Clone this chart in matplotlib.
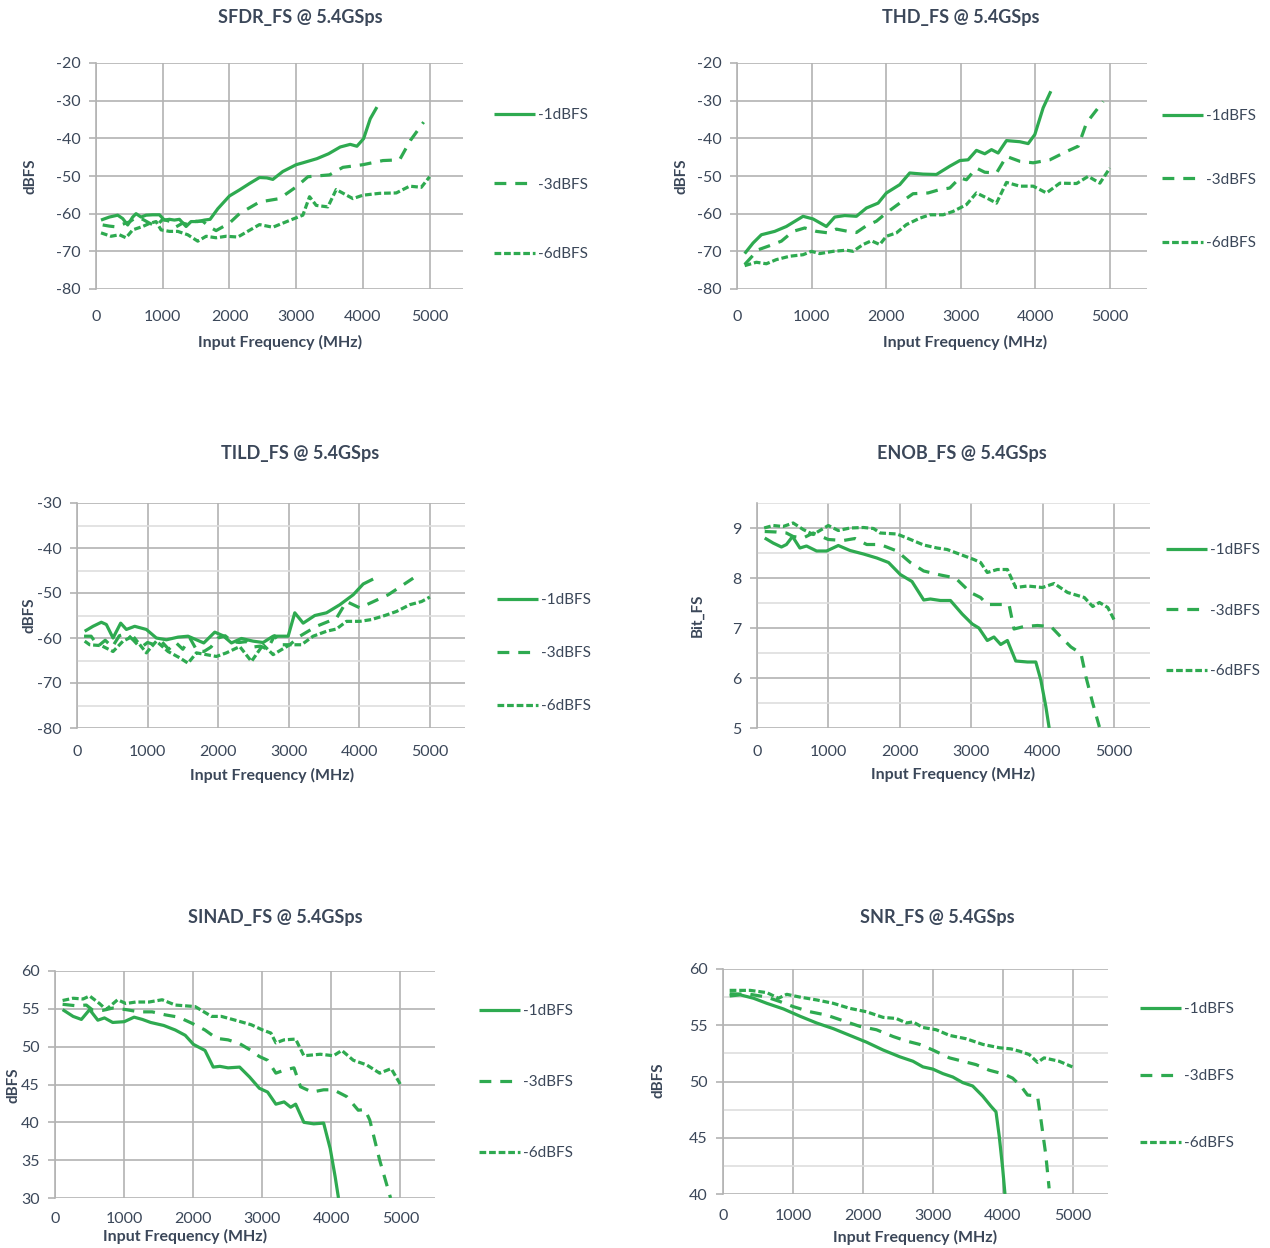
import matplotlib
matplotlib.use("Agg")
import matplotlib.pyplot as plt
from matplotlib.ticker import MultipleLocator

plt.rcParams['font.family'] = ['Lato', 'DejaVu Sans']
plt.rcParams['axes.unicode_minus'] = False

GREEN = '#2eaa50'
TXT = '#3b4759'
GRID = '#b3b3b3'
MINOR = '#dedede'

series_labels = ['-1dBFS', '-3dBFS', '-6dBFS']

# ---------------- SFDR ----------------
sfdr_x1 = [75, 200, 325, 400, 475, 550, 600, 675, 750, 850, 950, 1025, 1100, 1175, 1250, 1350, 1425,
           1525, 1625, 1710, 1825, 2000, 2150, 2300, 2450, 2560, 2650, 2800, 3000, 3100, 3310, 3485,
           3660, 3810, 3910, 4010, 4110, 4210]
sfdr_y1 = [-61.7, -60.9, -60.4, -61.3, -63.0, -60.9, -60.0, -60.9, -60.4, -60.3, -60.3, -61.7, -61.5,
           -61.7, -61.5, -63.4, -62.1, -62.1, -61.7, -61.5, -58.7, -55.3, -53.7, -52.0, -50.4, -50.5,
           -50.9, -48.8, -47.0, -46.5, -45.4, -44.1, -42.3, -41.6, -42.1, -40.1, -34.8, -31.7]
sfdr_x3 = [100, 200, 300, 400, 500, 600, 700, 800, 900, 1000, 1100, 1200, 1300, 1400, 1500, 1600, 1700,
           1800, 1900, 2000, 2150, 2450, 2750, 3000, 3175, 3300, 3500, 3700, 4000, 4300, 4550, 4710, 4910]
sfdr_y3 = [-63.0, -63.3, -63.5, -62.8, -62.2, -61.0, -61.5, -62.5, -63.3, -61.5, -62.0, -63.5, -62.5,
           -63.0, -62.0, -62.0, -63.5, -64.5, -63.5, -62.5, -60.0, -56.9, -56.0, -52.9, -50.2, -50.0,
           -49.7, -47.7, -47.0, -45.9, -45.7, -40.6, -35.7]
sfdr_x6 = [75, 225, 350, 450, 550, 700, 800, 900, 975, 1100, 1225, 1375, 1525, 1650, 1800, 1950, 2125,
           2450, 2650, 2900, 3100, 3200, 3300, 3475, 3600, 3850, 4000, 4250, 4500, 4700, 4875, 5000]
sfdr_y6 = [-65.1, -66.0, -65.6, -66.4, -64.3, -63.4, -62.6, -62.1, -64.3, -64.7, -64.7, -65.6, -67.3,
           -66.0, -66.4, -66.0, -66.2, -62.9, -63.6, -61.8, -60.4, -55.5, -57.8, -58.2, -53.6, -56.0,
           -55.1, -54.6, -54.5, -52.7, -53.0, -50.2]

# ---------------- THD ----------------
thd_x1 = [103, 215, 327, 506, 662, 886, 1020, 1199, 1311, 1445, 1602, 1736, 1893, 2004, 2183, 2317,
          2496, 2675, 2854, 2989, 3100, 3212, 3324, 3414, 3503, 3615, 3794, 3906, 3995, 4107, 4210]
thd_y1 = [-70.6, -67.8, -65.6, -64.7, -63.4, -60.7, -61.4, -63.4, -60.9, -60.5, -60.7, -58.5, -57.2,
          -54.5, -52.3, -49.2, -49.5, -49.6, -47.4, -45.9, -45.7, -43.2, -44.1, -43.0, -43.9, -40.6,
          -40.9, -41.4, -39.0, -31.9, -27.5]
thd_x3 = [103, 282, 438, 595, 752, 908, 1065, 1221, 1333, 1490, 1602, 1736, 1870, 2004, 2183, 2362,
          2564, 2720, 2854, 2989, 3078, 3212, 3324, 3481, 3615, 3794, 3973, 4197, 4420, 4577, 4689, 4912]
thd_y3 = [-73.5, -69.6, -68.5, -67.3, -64.7, -63.8, -64.7, -65.1, -64.1, -64.7, -65.0, -63.2, -62.0,
          -59.8, -57.2, -54.7, -54.5, -53.6, -53.2, -50.5, -51.0, -47.9, -49.0, -49.2, -44.8, -46.1,
          -46.5, -45.7, -43.5, -42.1, -35.9, -30.2]
thd_x6 = [103, 260, 394, 528, 707, 886, 998, 1110, 1289, 1467, 1557, 1691, 1803, 1915, 2004, 2139, 2273,
          2452, 2586, 2765, 2899, 3078, 3212, 3347, 3481, 3615, 3794, 3973, 4152, 4331, 4555, 4711,
          4868, 5002]
thd_y6 = [-73.8, -72.9, -73.3, -72.2, -71.3, -70.9, -70.0, -70.6, -70.0, -69.7, -70.0, -68.2, -67.2,
          -68.2, -66.0, -65.1, -62.9, -61.2, -60.3, -60.3, -59.4, -57.6, -54.5, -55.8, -57.2, -51.7,
          -52.7, -52.7, -54.5, -51.9, -52.0, -50.1, -51.9, -47.9]

# ---------------- TILD ----------------
tild_x1 = [109, 227, 345, 416, 511, 619, 700, 818, 983, 1125, 1267, 1433, 1574, 1693, 1797, 1953, 2071,
           2189, 2331, 2496, 2638, 2780, 2875, 2993, 3087, 3206, 3371, 3537, 3726, 3915, 4057, 4198]
tild_y1 = [-58.5, -57.4, -56.5, -57.0, -60.0, -56.7, -58.1, -57.4, -58.1, -60.0, -60.4, -59.8, -59.6,
           -60.4, -61.1, -58.7, -59.5, -61.1, -60.1, -60.7, -61.0, -59.6, -59.6, -59.6, -54.4, -56.7,
           -55.0, -54.4, -52.6, -50.4, -48.0, -46.9]
tild_x3 = [100, 200, 300, 400, 500, 600, 700, 800, 900, 1000, 1100, 1200, 1300, 1400, 1500, 1600, 1700,
           1800, 1900, 2000, 2100, 2200, 2300, 2400, 2500, 2600, 2700, 2800, 2900, 3016, 3158, 3395,
           3678, 3820, 4009, 4411, 4766]
tild_y3 = [-59.6, -59.6, -61.8, -60.5, -62.0, -59.5, -59.0, -60.5, -62.2, -61.0, -61.5, -60.8, -62.5,
           -61.0, -62.5, -60.0, -62.8, -63.0, -62.0, -60.0, -59.5, -60.8, -61.0, -60.8, -62.0, -61.8,
           -62.5, -59.5, -61.5, -61.5, -59.6, -57.4, -55.6, -51.9, -53.3, -50.4, -46.7]
tild_x6 = [109, 180, 345, 511, 652, 794, 983, 1125, 1291, 1456, 1574, 1693, 1834, 1976, 2118, 2307,
           2473, 2638, 2780, 2898, 3016, 3182, 3347, 3537, 3678, 3820, 4009, 4175, 4364, 4529, 4718,
           4884, 5002]
tild_y6 = [-60.7, -61.5, -61.7, -63.0, -60.7, -59.6, -63.3, -60.7, -63.0, -64.4, -65.6, -63.3, -63.7,
           -64.1, -63.3, -61.9, -65.2, -61.5, -63.7, -62.6, -61.5, -61.5, -59.6, -58.5, -58.0, -56.3,
           -56.3, -55.9, -55.0, -54.1, -52.6, -51.9, -50.9]

# ---------------- ENOB ----------------
enob_x1 = [108, 225, 342, 412, 497, 600, 693, 834, 974, 1138, 1302, 1490, 1677, 1841, 2005, 2169, 2333,
           2426, 2567, 2707, 2871, 3012, 3105, 3223, 3316, 3410, 3504, 3621, 3785, 3902, 3972, 4042,
           4089]
enob_y1 = [8.80, 8.70, 8.62, 8.67, 8.83, 8.60, 8.64, 8.54, 8.54, 8.65, 8.55, 8.48, 8.40, 8.31, 8.07,
           7.93, 7.56, 7.58, 7.55, 7.55, 7.28, 7.08, 7.00, 6.75, 6.82, 6.67, 6.75, 6.34, 6.32, 6.32,
           5.96, 5.43, 5.00]
enob_x3 = [108, 272, 412, 506, 646, 787, 998, 1208, 1372, 1536, 1724, 1958, 2145, 2333, 2567, 2778,
           2988, 3129, 3223, 3363, 3527, 3597, 3738, 3925, 4113, 4253, 4394, 4534, 4604, 4698, 4792]
enob_y3 = [8.93, 8.92, 8.90, 8.83, 8.80, 8.90, 8.77, 8.75, 8.79, 8.67, 8.67, 8.54, 8.31, 8.14, 8.06,
           8.00, 7.71, 7.61, 7.47, 7.47, 7.47, 6.98, 7.03, 7.05, 7.03, 6.82, 6.62, 6.49, 6.02, 5.50,
           5.02]
enob_x6 = [100, 225, 365, 506, 646, 787, 998, 1138, 1302, 1490, 1630, 1724, 1958, 2098, 2333, 2520,
           2661, 2848, 3035, 3129, 3223, 3363, 3504, 3621, 3785, 3995, 4159, 4347, 4581, 4698, 4792,
           4909, 5003]
enob_y6 = [9.00, 9.05, 9.03, 9.10, 8.97, 8.87, 9.05, 8.95, 9.00, 9.01, 8.99, 8.90, 8.88, 8.80, 8.66,
           8.60, 8.57, 8.47, 8.37, 8.31, 8.11, 8.17, 8.17, 7.81, 7.84, 7.81, 7.89, 7.71, 7.61, 7.43,
           7.51, 7.41, 7.15]

# ---------------- SINAD ----------------
sinad_x1 = [110, 262, 382, 501, 620, 716, 835, 1002, 1145, 1264, 1384, 1574, 1741, 1885, 2004, 2171,
            2290, 2386, 2505, 2672, 2815, 2958, 3077, 3197, 3316, 3411, 3483, 3602, 3745, 3888, 3984,
            4055, 4103]
sinad_y1 = [54.9, 54.0, 53.6, 54.9, 53.5, 53.8, 53.2, 53.3, 53.9, 53.6, 53.2, 52.8, 52.2, 51.5, 50.3,
            49.5, 47.3, 47.4, 47.2, 47.3, 46.0, 44.5, 44.0, 42.4, 42.7, 42.0, 42.4, 40.0, 39.8, 39.9,
            36.5, 32.8, 30.0]
sinad_x3 = [110, 310, 453, 549, 692, 835, 1026, 1217, 1407, 1598, 1789, 1980, 2171, 2338, 2505, 2672,
            2839, 2958, 3077, 3197, 3316, 3459, 3554, 3721, 3888, 4031, 4222, 4389, 4485, 4556, 4699,
            4857]
sinad_y3 = [55.6, 55.4, 55.5, 54.8, 54.8, 55.1, 54.9, 54.6, 54.6, 54.2, 53.9, 53.1, 52.2, 51.1, 50.9,
            50.4, 49.5, 48.7, 48.2, 46.5, 46.9, 47.2, 44.7, 44.0, 44.3, 44.3, 43.4, 41.6, 41.7, 40.3,
            35.0, 30.0]
sinad_x6 = [110, 262, 406, 501, 644, 740, 906, 1026, 1169, 1360, 1551, 1741, 2028, 2266, 2409, 2648,
            2839, 3006, 3125, 3197, 3316, 3483, 3602, 3840, 4031, 4151, 4318, 4509, 4699, 4866, 5000]
sinad_y6 = [56.1, 56.4, 56.3, 56.7, 55.7, 54.9, 56.2, 55.7, 55.9, 55.9, 56.2, 55.5, 55.3, 54.0, 54.0,
            53.4, 52.9, 52.2, 51.8, 50.5, 50.9, 51.0, 48.8, 49.0, 48.8, 49.5, 48.2, 47.6, 46.5, 47.1,
            45.0]

# ---------------- SNR ----------------
snr_x1 = [95, 247, 436, 626, 863, 1101, 1338, 1575, 1812, 2049, 2287, 2524, 2714, 2856, 2998, 3141,
          3283, 3425, 3567, 3710, 3828, 3900, 3947, 3995, 4028]
snr_y1 = [57.6, 57.7, 57.4, 56.95, 56.45, 55.8, 55.2, 54.7, 54.1, 53.5, 52.8, 52.2, 51.8, 51.3, 51.1,
          50.7, 50.4, 49.9, 49.6, 48.7, 47.8, 47.3, 45.1, 42.3, 40.0]
snr_x3 = [95, 389, 626, 816, 1006, 1243, 1480, 1765, 1955, 2192, 2429, 2619, 2808, 2998, 3235, 3425,
          3615, 3805, 4018, 4137, 4255, 4350, 4493, 4540, 4611, 4659]
snr_y3 = [57.8, 57.75, 57.5, 57.1, 56.65, 56.2, 55.9, 55.3, 54.9, 54.6, 54.0, 53.6, 53.3, 52.8, 52.1,
          51.8, 51.5, 51.0, 50.65, 50.3, 49.6, 48.8, 48.7, 46.7, 43.5, 40.5]
snr_x6 = [95, 389, 626, 792, 911, 1101, 1338, 1575, 1812, 2049, 2287, 2476, 2619, 2714, 2856, 3046,
          3235, 3473, 3710, 3947, 4113, 4232, 4374, 4493, 4587, 4801, 4991]
snr_y6 = [58.1, 58.1, 57.9, 57.4, 57.75, 57.5, 57.25, 56.95, 56.5, 56.2, 55.7, 55.6, 55.2, 55.3, 54.8,
          54.6, 54.1, 53.8, 53.3, 53.0, 52.9, 52.7, 52.4, 51.7, 52.1, 51.8, 51.3]

W, H = 1270, 1248
fig = plt.figure(figsize=(W / 100, H / 100), dpi=100)

dash_styles = ['-', (0, (3.7, 2.8)), (0, (2.1, 0.9))]


def panel(box, data, title, ylim, ymajor, yminor, ylabel, title_pos, xlabel_pos, ylabel_pos,
          leg_pos, leg_sp, xpad):
    L, T, R, B = box
    ax = fig.add_axes([L / W, 1 - B / H, (R - L) / W, (B - T) / H])
    handles = []
    for (x, y), ls, lab in zip(data, dash_styles, series_labels):
        h, = ax.plot(x, y, color=GREEN, lw=2.3, linestyle=ls, label=lab,
                     solid_capstyle='butt', dash_capstyle='butt')
        handles.append(h)
    ax.set_xlim(0, 5500)
    ax.set_ylim(*ylim)
    ax.xaxis.set_major_locator(MultipleLocator(1000))
    ax.yaxis.set_major_locator(MultipleLocator(ymajor))
    if yminor:
        ax.yaxis.set_minor_locator(MultipleLocator(yminor))
        ax.grid(True, which='minor', axis='y', color=MINOR, lw=1.2)
    ax.grid(True, which='major', color=GRID, lw=1.2)
    ax.set_axisbelow(True)
    for s in ['top', 'right', 'bottom']:
        ax.spines[s].set_visible(False)
    ax.spines['left'].set_color(GRID)
    ax.spines['left'].set_linewidth(1.2)
    ax.tick_params(axis='y', which='major', length=5, color=GRID, width=1.2, labelsize=11.5,
                   labelcolor=TXT, pad=6)
    ax.tick_params(axis='y', which='minor', length=0)
    ax.tick_params(axis='x', length=0, labelsize=11.5, labelcolor=TXT, pad=xpad)
    xt = ax.get_xticks()
    ax.set_xticks([t for t in xt if 0 <= t <= 5000])
    ax.set_title(title, fontsize=13, fontweight='bold', color=TXT, pad=0,
                 x=(title_pos[0] - L) / (R - L), y=(B - title_pos[1]) / (B - T), va='center')
    ax.set_xlabel('Input Frequency (MHz)', fontsize=11.5, fontweight='bold', color=TXT, va='center')
    ax.xaxis.set_label_coords((xlabel_pos[0] - L) / (R - L), (B - xlabel_pos[1]) / (B - T))
    ax.set_ylabel(ylabel, fontsize=11, fontweight='bold', color=TXT, va='center')
    ax.yaxis.set_label_coords((ylabel_pos[0] - L) / (R - L), (B - ylabel_pos[1]) / (B - T))
    fs = 11
    fs_px = fs * 100 / 72
    ax.legend(handles=handles, loc='upper left',
              bbox_to_anchor=(leg_pos[0] / W, 1 - leg_pos[1] / H), bbox_transform=fig.transFigure,
              frameon=False, fontsize=fs, labelcolor=TXT, handlelength=2.7, handletextpad=0.15,
              labelspacing=(leg_sp - fs_px * 1.0) / fs_px, borderpad=0, borderaxespad=0)
    return ax


panel((96, 63, 463, 289), [(sfdr_x1, sfdr_y1), (sfdr_x3, sfdr_y3), (sfdr_x6, sfdr_y6)],
      'SFDR_FS @ 5.4GSps', (-80, -20), 10, None, 'dBFS',
      (300, 18), (280, 342), (30, 176), (494, 108), 71, 15)
panel((737, 63, 1147, 289), [(thd_x1, thd_y1), (thd_x3, thd_y3), (thd_x6, thd_y6)],
      'THD_FS @ 5.4GSps', (-80, -20), 10, None, 'dBFS',
      (961, 18), (965, 342), (681, 176), (1162, 109), 65, 15)
panel((77, 503, 465, 728), [(tild_x1, tild_y1), (tild_x3, tild_y3), (tild_x6, tild_y6)],
      'TILD_FS @ 5.4GSps', (-80, -30), 10, 5, 'dBFS',
      (300, 453), (272, 775), (30, 615), (497, 593), 54.5, 12)
panel((757, 503, 1150, 728), [(enob_x1, enob_y1), (enob_x3, enob_y3), (enob_x6, enob_y6)],
      'ENOB_FS @ 5.4GSps', (5, 9.5), 1, 0.5, 'Bit_FS',
      (962, 453), (953, 774), (697, 615), (1166, 543), 62, 12)
panel((55, 971, 435, 1198), [(sinad_x1, sinad_y1), (sinad_x3, sinad_y3), (sinad_x6, sinad_y6)],
      'SINAD_FS @ 5.4GSps', (30, 60), 5, None, 'dBFS',
      (275, 917), (185, 1236), (13, 1085), (479, 1004), 72.5, 10)
panel((723, 969, 1108, 1194), [(snr_x1, snr_y1), (snr_x3, snr_y3), (snr_x6, snr_y6)],
      'SNR_FS @ 5.4GSps', (40, 60), 5, 2.5, 'dBFS',
      (937, 917), (915, 1237), (658, 1080), (1140, 1002), 68.5, 11)

fig.savefig('out.png', dpi=100, facecolor='white')
